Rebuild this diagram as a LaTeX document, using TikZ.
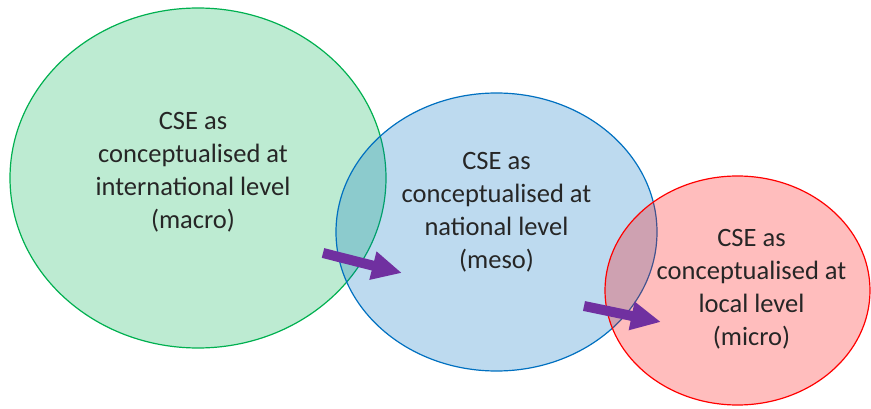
\documentclass[tikz,border=0pt]{standalone}
\usepackage{fontspec}
\setmainfont{Carlito}
\usetikzlibrary{shapes.geometric,arrows.meta}
\definecolor{levelgreen}{HTML}{00B050}
\definecolor{levelblue}{HTML}{0070C0}
\definecolor{levelred}{HTML}{FF0000}
\definecolor{shiftpurple}{HTML}{7030A0}
\begin{document}
\begin{tikzpicture}[x=1pt, y=-1pt, >={Triangle[length=30pt, width=27pt]}]
      \tikzset{
  level/.style={
    ellipse,
    draw=#1,
    fill=#1,
    fill opacity=.26,
    line width=1.2pt,
    inner sep=0pt
  },
  level text/.style={
    align=center,
    text=black!85,
    font=\fontsize{26.5}{33}\selectfont
  },
  shift arrow/.style={
    ->,
    draw=shiftpurple,
    fill=shiftpurple,
    line width=10pt
  }
}

\useasboundingbox (0,0) rectangle (871,409);

\foreach \n/\x/\y/\w/\h/\c in {macro/198/178/376/340/levelgreen,
    meso/496.5/232/321/278/levelblue,
    micro/737.5/290.5/265/229/levelred}
  \node [level=\c, minimum width=\w, minimum height=\h] (\n) at (\x,\y) {};

\foreach \n/\l/\dx/\dy in {macro/international/-5/-6, meso/national/0/-20,
    micro/local/14/-1}
  \node [level text] (\n-text) at ([shift={(\dx,\dy)}]\n.center)
    {CSE as\\conceptualised at\\\l\ level\\(\n)};

% arrows macro -> meso -> micro
\coordinate (macro-out) at (323,253);
\coordinate (meso-in) at (402,273);
\coordinate (meso-out) at (584,306);
\coordinate (micro-in) at (661,322);

\draw [shift arrow] (macro-out) -- (meso-in);
\draw [shift arrow] (meso-out) -- (micro-in);
    \end{tikzpicture}
\end{document}
